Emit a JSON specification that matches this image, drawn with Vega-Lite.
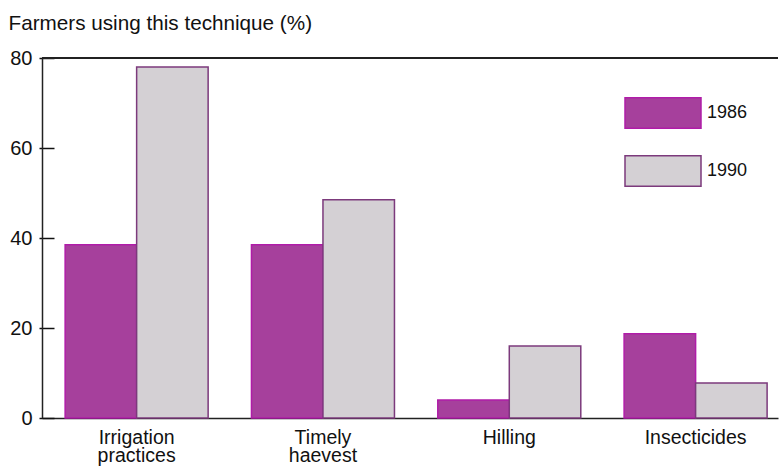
{
  "$schema": "https://vega.github.io/schema/vega-lite/v6.json",
  "width": 736,
  "height": 360,
  "autosize": "none",
  "padding": {"left": 42, "top": 58, "right": 6, "bottom": 48},
  "background": "white",
  "config": {
    "view": {"stroke": null},
    "font": "Liberation Sans",
    "axis": {"grid": false, "labelColor": "#111", "titleColor": "#111", "domainColor": "#222", "domainWidth": 1.5}
  },
  "data": {
    "values": [
      {"technique": "Irrigation practices", "year": "1986", "pct": 38.5},
      {"technique": "Irrigation practices", "year": "1990", "pct": 78},
      {"technique": "Timely haevest", "year": "1986", "pct": 38.5},
      {"technique": "Timely haevest", "year": "1990", "pct": 48.5},
      {"technique": "Hilling", "year": "1986", "pct": 4},
      {"technique": "Hilling", "year": "1990", "pct": 16},
      {"technique": "Insecticides", "year": "1986", "pct": 18.7},
      {"technique": "Insecticides", "year": "1990", "pct": 7.8}
    ]
  },
  "resolve": {"axis": {"y": "independent"}},
  "layer": [
    {
      "mark": {"type": "bar", "strokeWidth": 1.5},
      "encoding": {
        "x": {
          "field": "technique",
          "type": "nominal",
          "sort": null,
          "scale": {"paddingInner": 0.2325, "paddingOuter": 0.0913, "align": 0.68},
          "axis": {
            "title": null,
            "labelAngle": 0,
            "ticks": false,
            "labelFontSize": 19.5,
            "labelPadding": 10,
            "labelLineHeight": 18,
            "labelBaseline": "top",
            "labelExpr": "split(datum.label, ' ')"
          }
        },
        "xOffset": {"field": "year", "type": "nominal", "scale": {"paddingInner": 0, "paddingOuter": 0}},
        "y": {
          "field": "pct",
          "type": "quantitative",
          "scale": {"domain": [0, 80], "nice": false},
          "axis": {
            "orient": "left",
            "offset": -12,
            "domain": false,
            "values": [0, 20, 40, 60, 80],
            "title": "Farmers using this technique (%)",
            "titleAngle": 0,
            "titleAlign": "left",
            "titleBaseline": "alphabetic",
            "titleX": -46,
            "titleY": -29,
            "titleFontSize": 20.7,
            "titleFontWeight": "normal",
            "labelFontSize": 20,
            "tickSize": 15,
            "tickColor": "#111",
            "tickWidth": 1.5,
            "labelPadding": 7
          }
        },
        "fill": {
          "field": "year",
          "type": "nominal",
          "scale": {"range": ["#a6409c", "#d4d0d4"]},
          "legend": {
            "title": null,
            "orient": "none",
            "legendX": 582,
            "legendY": 16,
            "symbolType": "M-1,-0.4H1V0.4H-1Z",
            "symbolSize": 5776,
            "symbolStrokeWidth": 1.5,
            "rowPadding": -8,
            "labelFontSize": 18,
            "labelOffset": 5,
            "labelColor": "#111"
          }
        },
        "stroke": {
          "field": "year",
          "type": "nominal",
          "scale": {"range": ["#b01ca8", "#7c3a7c"]},
          "legend": {
            "title": null,
            "orient": "none",
            "legendX": 582,
            "legendY": 16,
            "symbolType": "M-1,-0.4H1V0.4H-1Z",
            "symbolSize": 5776,
            "symbolStrokeWidth": 1.5,
            "rowPadding": -8,
            "labelFontSize": 18,
            "labelOffset": 5,
            "labelColor": "#111"
          }
        }
      }
    },
    {
      "mark": {"type": "rule", "color": "#222", "strokeWidth": 1.5},
      "encoding": {
        "y": {
          "datum": 80,
          "type": "quantitative",
          "axis": {"orient": "left", "offset": 0, "domain": true, "ticks": false, "labels": false, "title": null}
        }
      }
    }
  ]
}
